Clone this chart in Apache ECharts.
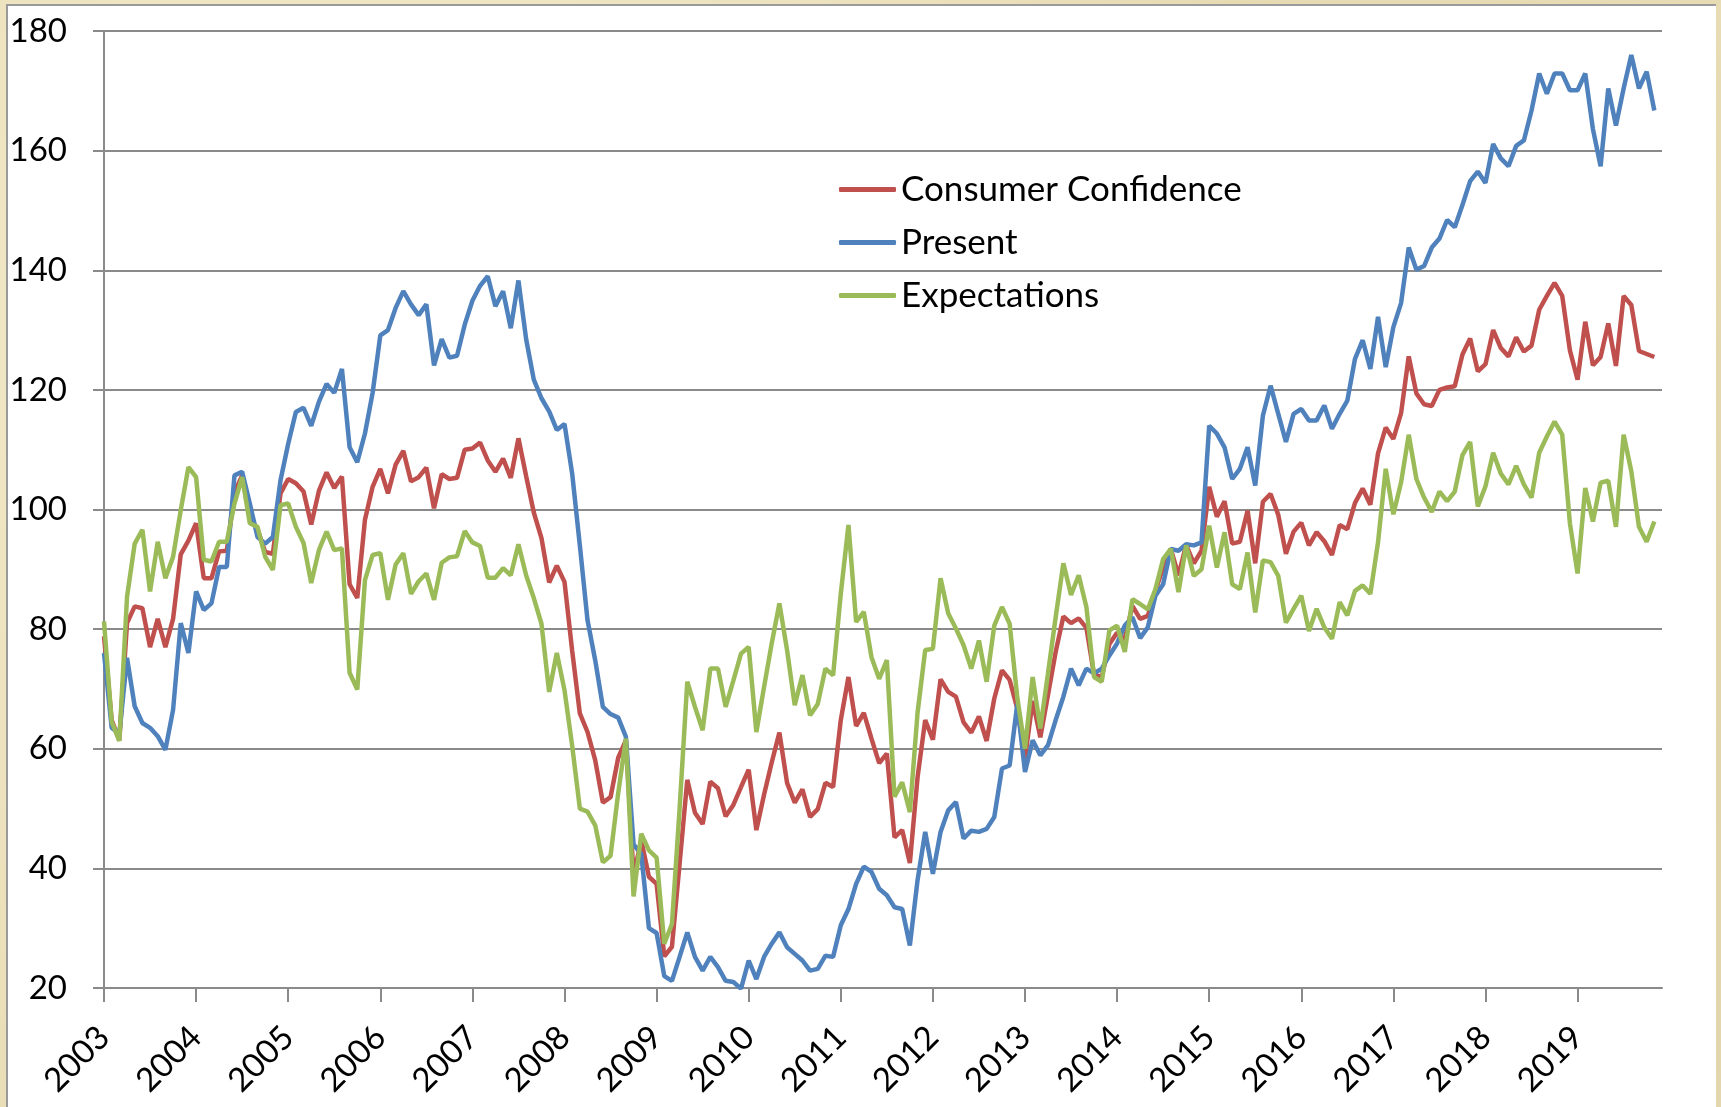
<!DOCTYPE html>
<html>
<head>
<meta charset="utf-8">
<script src="https://cdn.jsdelivr.net/npm/echarts@6/dist/echarts.min.js"></script>
<style>
	html,body{margin:0;padding:0;}
	body{width:1721px;height:1107px;overflow:hidden;position:relative;
		background:#e8dcb4;
		background-image:radial-gradient(circle at 20% 30%, rgba(255,250,225,0.5), rgba(0,0,0,0) 60%),
			radial-gradient(circle at 80% 70%, rgba(200,185,140,0.35), rgba(0,0,0,0) 55%);}
	#panel{position:absolute;left:6px;top:4px;width:1710px;height:1110px;background:#fff;
		border-left:2px solid #9a9a9a;border-top:2px solid #9a9a9a;box-sizing:border-box;}
	#main{position:absolute;left:0;top:0;width:1721px;height:1107px;}
</style>
</head>
<body>
<div id="panel"></div>
<div id="main"></div>
<script>
// year ticks on the x axis
var years = [2003,2004,2005,2006,2007,2008,2009,2010,2011,2012,2013,2014,2015,2016,2017,2018,2019];

// monthly values, Jan 2003 .. Nov 2019
var consumerConfidence = [
	78.8,64.8,61.4,81.0,83.8,83.5,77.0,81.7,77.0,81.7,92.5,94.8,
	97.7,88.5,88.5,93.0,93.1,102.8,105.7,98.7,96.7,92.9,92.6,102.7,
	105.1,104.4,103.0,97.5,103.1,106.2,103.6,105.5,87.5,85.2,98.3,103.8,
	106.8,102.7,107.5,109.8,104.7,105.4,107.0,100.2,105.9,105.1,105.3,110.0,
	110.2,111.2,108.2,106.3,108.5,105.3,111.9,105.6,99.5,95.2,87.8,90.6,
	87.9,76.4,65.9,62.8,58.1,51.0,51.9,58.5,61.4,38.8,44.7,38.6,
	37.4,25.3,26.9,40.8,54.8,49.3,47.4,54.5,53.4,48.7,50.6,53.6,
	56.5,46.4,52.3,57.7,62.7,54.3,51.0,53.2,48.6,49.9,54.3,53.6,
	64.8,72.0,63.8,66.0,61.7,57.6,59.2,45.2,46.4,40.9,55.2,64.8,
	61.5,71.6,69.5,68.7,64.4,62.7,65.4,61.3,68.4,73.1,71.5,66.7,
	58.4,68.0,61.9,69.0,76.2,82.1,81.0,81.8,80.2,72.4,72.0,77.5,
	79.4,78.3,83.9,81.7,82.2,86.4,90.3,93.4,89.0,94.1,91.0,93.1,
	103.8,98.8,101.4,94.3,94.6,99.8,91.0,101.3,102.6,99.1,92.6,96.3,
	97.8,94.0,96.2,94.7,92.4,97.4,96.7,101.1,103.5,100.8,109.4,113.7,
	111.8,116.1,125.6,119.4,117.6,117.3,120.0,120.4,120.6,125.9,128.6,123.1,
	124.3,130.0,127.0,125.6,128.8,126.4,127.4,133.4,135.7,137.9,135.7,126.6,
	121.7,131.4,124.1,125.5,131.1,124.0,135.7,134.2,126.5,126.0,125.5
];
var present = [
	76,63.5,62.5,75.2,67.1,64.3,63.5,62.1,59.8,66.5,81,76,
	86.3,83.2,84.3,90.4,90.4,105.7,106.3,101,95.4,94.3,95.4,104.9,
	111,116.3,117,114,118,121,119.5,123.5,110.4,107.9,112.7,119.5,
	129.1,130,133.7,136.5,134.3,132.5,134.3,124.1,128.5,125.4,125.7,130.9,
	134.9,137.4,139,134,136.5,130.3,138.3,128.5,121.7,118.6,116.4,113.3,
	114.3,106,94,81.5,74.8,67,65.8,65.2,62,44,42.4,30,
	29.2,22,21.2,25.2,29.3,25.2,22.9,25.2,23.5,21.2,21,19.9,
	24.6,21.5,25.2,27.4,29.3,26.8,25.7,24.6,22.9,23.2,25.4,25.2,
	30.5,33.2,37.4,40.3,39.4,36.6,35.5,33.5,33.2,27.1,38,46.1,
	39.1,46.1,49.7,51.1,45,46.3,46.1,46.6,48.6,56.7,57.2,67.5,
	56.1,61.4,58.9,60.6,64.8,68.7,73.4,70.6,73.4,72.6,73.4,75.6,
	77.6,80.6,82,78.5,80.3,85.6,87.5,93.4,93.1,94.2,94,94.5,
	114,112.7,110.4,105.1,106.8,110.4,104,115.7,120.7,116,111.3,116,
	116.8,114.9,114.9,117.4,113.5,116,118.2,125.2,128.3,123.5,132.2,123.8,
	130.5,134.5,143.8,140.1,140.7,143.8,145.3,148.4,147.2,150.9,154.9,156.5,
	154.6,161.1,158.7,157.4,160.8,161.7,166.7,172.9,169.5,172.9,172.9,170.1,
	170.1,172.9,163.6,157.4,170.4,164.2,170.4,176,170.4,173.2,166.7
];
var expectations = [
	81.3,64.5,61.3,85.4,94.3,96.6,86.3,94.6,88.5,92.1,99.9,107.1,
	105.4,91.6,91.3,94.6,94.6,101,105.4,97.7,97.1,92.1,89.9,100.7,
	101,97.1,94.4,87.7,93.2,96.3,93.2,93.5,72.7,69.9,88.2,92.4,
	92.7,84.9,90.8,92.7,85.9,88,89.3,84.9,91.1,92,92.2,96.4,
	94.5,93.9,88.6,88.6,90.2,89,94.2,89,85.2,80.9,69.5,76,
	69.8,60.5,50,49.5,47.2,41,42.1,52.6,61.7,35.3,45.8,43,
	41.8,27.4,30.7,50,71.2,67,63.1,73.4,73.4,67,71.4,75.9,
	77,62.8,70.3,77.6,84.3,76.5,67.3,72.3,65.6,67.5,73.4,72.3,
	85.9,97.4,81.2,82.9,75.3,71.7,74.8,52,54.4,49.4,66,76.5,
	76.7,88.5,82.6,80.1,77.3,73.4,78.1,71.2,80.6,83.7,80.9,68.5,
	60,72,63.4,72.6,82,91,85.7,89,83.7,72,71.2,79.8,
	80.6,76.2,85,84.2,83.3,86.7,91.7,93.4,86.2,94,88.9,90,
	97.3,90.3,96.2,87.5,86.7,92.8,82.8,91.5,91.2,88.9,81.1,83.4,
	85.6,79.7,83.4,80.3,78.4,84.5,82.3,86.4,87.3,85.9,94.5,106.8,
	99.2,104.5,112.5,105.1,102,99.6,103,101.4,103,109.1,111.3,100.5,
	103.9,109.5,106,104.2,107.3,104.2,102,109.5,112.2,114.7,112.5,97.7,
	89.3,103.6,98,104.5,104.8,97.1,112.5,106.4,97.1,94.6,98
];

var months = [];
for (var i = 0; i < years.length; i++) {
	for (var m = 1; m <= 12; m++) {
		months.push(years[i] + "-" + (m < 10 ? "0" + m : m));
	}
}

var font = "Lato";
var gray = "#8a8a8a";
function isJan(index){
	return index % 12 === 0 && index < months.length - 1;
}

var myChart = echarts.init(document.getElementById('main'));
var option = {
	animation: false,
	grid: { left: 104, right: 59, top: 31, bottom: 119 },
	legend: {
		orient: 'vertical',
		left: 834,
		top: 164,
		itemWidth: 57,
		itemHeight: 5,
		itemGap: 12,
		icon: 'roundRect',
		textStyle: { fontFamily: font, fontSize: 35, color: '#000', lineHeight: 41 },
		data: ['Consumer Confidence', 'Present', 'Expectations']
	},
	xAxis: {
		type: 'category',
		data: months,
		boundaryGap: false,
		axisLine: { lineStyle: { color: gray, width: 2 } },
		axisTick: { interval: isJan, length: 14, lineStyle: { color: gray, width: 2 } },
		axisLabel: {
			interval: isJan,
			rotate: 45,
			margin: 44,
			fontFamily: font,
			fontSize: 33,
			color: '#000',
			formatter: function(v){ return v.substring(0, 4); }
		},
		splitLine: { show: false }
	},
	yAxis: {
		type: 'value',
		min: 20,
		max: 180,
		interval: 20,
		axisLine: { show: true, lineStyle: { color: gray, width: 2 } },
		axisTick: { show: true, length: 11, lineStyle: { color: gray, width: 2 } },
		axisLabel: { margin: 37, fontFamily: font, fontSize: 33, color: '#000' },
		splitLine: { lineStyle: { color: gray, width: 2 } }
	},
	series: [{
		name: 'Consumer Confidence',
		type: 'line',
		data: consumerConfidence,
		showSymbol: false,
		color: '#c0504d',
		lineStyle: { width: 4.5 }
	},{
		name: 'Present',
		type: 'line',
		data: present,
		showSymbol: false,
		color: '#4f81bd',
		lineStyle: { width: 4.5 }
	},{
		name: 'Expectations',
		type: 'line',
		data: expectations,
		showSymbol: false,
		color: '#9bbb59',
		lineStyle: { width: 4.5 }
	}]
};
myChart.setOption(option);
</script>
</body>
</html>
